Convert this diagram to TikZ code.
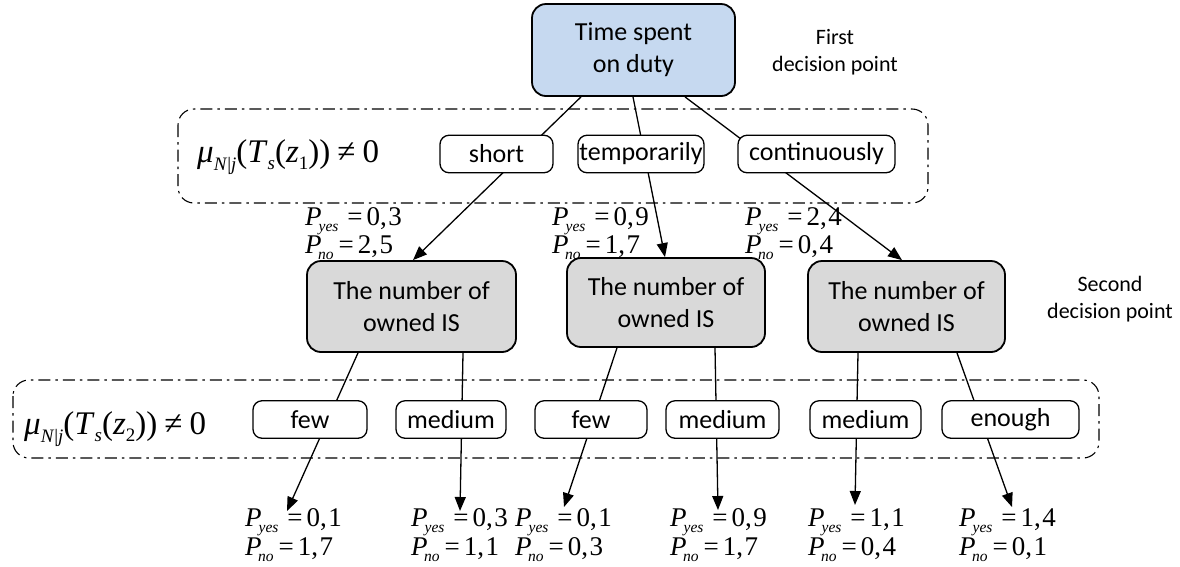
\documentclass[tikz,border=0pt]{standalone}
\usepackage{fontspec}
\setmainfont{Carlito}
\newfontfamily\tnr{Liberation Serif}
\usetikzlibrary{arrows.meta,calc}
\definecolor{topblue}{RGB}{198,217,240}
\definecolor{midgray}{RGB}{217,217,217}
\pgfdeclarelayer{bg}
\pgfsetlayers{bg,main}
\newcommand\mycomma{,\kern1.5pt}
\newcommand\pyes{\textit{P}\kern-3pt\raisebox{-6.5pt}{\fontsize{15.5}{15.5}\selectfont\itshape yes}}
\newcommand\pno{\textit{P}\kern-3.5pt\raisebox{-6.5pt}{\fontsize{15.5}{15.5}\selectfont\itshape no}}
\newcommand\plines[2]{\lineskiplimit=-50pt\pyes\hspace{9pt}=\hspace{4pt}#1\\\pno\hspace{5pt}=\hspace{4pt}#2}
\newcommand\mulabel[1]{\textit{μ}\raisebox{-8.5pt}{\fontsize{19}{19}\selectfont\textit{N}|\textit{j}}(\textit{T}\raisebox{-7.5pt}{\fontsize{19}{19}\selectfont\textit{s}}(\textit{z}\raisebox{-7.5pt}{\fontsize{19}{19}\selectfont #1}))\hspace{7pt}≠\hspace{7pt}0}
\begin{document}
\begin{tikzpicture}[x=1pt,y=-1pt,
  bigbox/.style={draw, line width=1.8pt, rounded corners=14pt, inner sep=0pt, align=center, font=\fontsize{26}{32}\selectfont},
  topbox/.style={bigbox, fill=topblue},
  midbox/.style={bigbox, fill=midgray},
  lbl/.style={draw, line width=1.3pt, rounded corners=9pt, fill=white, inner sep=0pt, minimum height=37.5pt, font=\fontsize{26}{32}\selectfont},
  zone/.style={line width=1.1pt, rounded corners=16pt, dash pattern=on 12pt off 5pt on 2.5pt off 5pt},
  conn/.style={line width=1.3pt},
  arr/.style={conn, -{Triangle[length=14pt,width=11pt]}},
  plabu/.style={font=\tnr\fontsize{27}{28}\selectfont, align=left, inner sep=0pt, anchor=north west},
  plabl/.style={font=\tnr\fontsize{27}{29}\selectfont, align=left, inner sep=0pt, anchor=north west},
  mul/.style={font=\tnr\fontsize{33}{38}\selectfont, inner sep=0pt, anchor=base west},
  note/.style={font=\fontsize{22}{27}\selectfont, align=center, inner sep=0pt}
]
\useasboundingbox (0,0) rectangle (1180,566);

% decision boxes
\node[topbox, minimum width=203pt, minimum height=92pt] (T) at (633.5,50) {Time spent\\on duty};
\node[midbox, minimum width=209pt, minimum height=91pt] (B1) at (411.5,306.5) {The number of\\owned IS};
\node[midbox, minimum width=198pt, minimum height=89pt] (B2) at (666,302.5) {The number of\\owned IS};
\node[midbox, minimum width=197pt, minimum height=91pt] (B3) at (906.5,306.5) {The number of\\owned IS};

% side notes
\node[note] (n1) at (835,52) {First\\decision point};
\node[note] (n2) at (1110,299) {Second\\decision point};

% membership labels
\node[mul] (mu1) at (197,162) {\mulabel{1}};
\node[mul] (mu2) at (24,434) {\mulabel{2}};

% first-level options
\node[lbl, minimum width=113pt] (S) at (496.5,154) {short};
\node[lbl, minimum width=126pt] (Tm) at (641,154) {temporarily};
\node[lbl, minimum width=157pt] (C) at (816.5,154) {continuously};

% second-level options
\node[lbl, minimum width=114pt] (F1) at (310,419.5) {few};
\node[lbl, minimum width=110pt] (M1) at (451,419.5) {medium};
\node[lbl, minimum width=112pt] (F2) at (591,419.5) {few};
\node[lbl, minimum width=113pt] (M2) at (722.5,419.5) {medium};
\node[lbl, minimum width=111pt] (M3) at (865.5,419.5) {medium};
\node[lbl, minimum width=137pt] (E) at (1010.5,419.5) {enough};

% probability labels (upper)
\node[plabu] (U1) at (305,207) {\plines{0\mycomma3}{2\mycomma5}};
\node[plabu] (U2) at (552,207) {\plines{0\mycomma9}{1\mycomma7}};
\node[plabu] (U3) at (745,207) {\plines{2\mycomma4}{0\mycomma4}};

% probability labels (lower)
\node[plabl] (L1) at (245,508) {\plines{0\mycomma1}{1\mycomma7}};
\node[plabl] (L2) at (411,508) {\plines{0\mycomma3}{1\mycomma1}};
\node[plabl] (L3) at (515,508) {\plines{0\mycomma1}{0\mycomma3}};
\node[plabl] (L4) at (670,508) {\plines{0\mycomma9}{1\mycomma7}};
\node[plabl] (L5) at (808,508) {\plines{1\mycomma1}{0\mycomma4}};
\node[plabl] (L6) at (959,508) {\plines{1\mycomma4}{0\mycomma1}};

% arrow end points
\coordinate (a1) at (287,511);
\coordinate (a2) at (460,511);
\coordinate (a3) at (564,507);
\coordinate (a4) at (718,510);
\coordinate (a5) at (855,505);
\coordinate (a6) at (1012,507);

\begin{pgfonlayer}{bg}
  \draw[zone] (178,109) rectangle (928,203);
  \draw[zone] (13,380) rectangle (1099,458);
  \draw[arr] ([xshift=-52.5pt]T.south) -- ([xshift=1.5pt]B1.north);
  \draw[arr] ([xshift=-0.5pt]T.south) -- ([xshift=-1pt]B2.north);
  \draw[arr] ([xshift=51.5pt]T.south) -- ([xshift=-4.5pt]B3.north);
  \draw[arr] ([xshift=-53.5pt]B1.south) -- (a1);
  \draw[arr] ([xshift=51.5pt]B1.south) -- (a2);
  \draw[arr] ([xshift=-49pt]B2.south) -- (a3);
  \draw[arr] ([xshift=49pt]B2.south) -- (a4);
  \draw[arr] ([xshift=-48.5pt]B3.south) -- (a5);
  \draw[arr] ([xshift=50.5pt]B3.south) -- (a6);
\end{pgfonlayer}
\end{tikzpicture}
\end{document}
